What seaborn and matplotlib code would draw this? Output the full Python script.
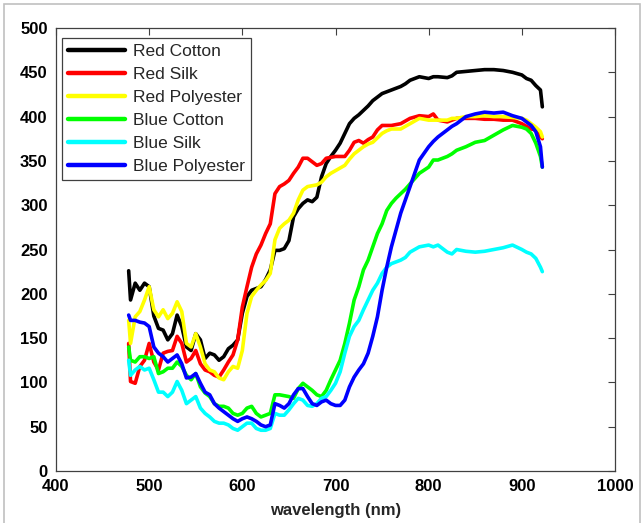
import numpy as np
import pandas as pd
import seaborn as sns
import matplotlib.pyplot as plt
from matplotlib.lines import Line2D

# --- data (wavelength in nm, reflectance counts) ---
names = ['Red Cotton', 'Red Silk', 'Red Polyester', 'Blue Cotton', 'Blue Silk', 'Blue Polyester']
colors = ['#000000', '#ff0000', '#ffff00', '#00ff00', '#00ffff', '#0000ff']

wl_short = [478, 480, 485, 490, 495, 500, 505, 510, 515, 520, 525, 530, 535, 540, 545, 550, 555,
            560, 565, 570, 575, 580, 585, 590, 595, 600, 605, 610, 615, 620, 625, 630, 635, 640,
            645, 650, 655, 660, 665, 670, 675, 680, 685, 690, 695, 700, 705, 710, 715, 720, 725,
            730, 735, 740, 745, 750, 755, 760, 765, 770, 775, 780, 790, 800, 805, 810, 820, 825,
            830, 840, 850, 860, 870, 880, 890, 900, 905, 910, 915, 920, 922]

red_cotton = [226, 193, 212, 204, 212, 208, 175, 161, 159, 148, 155, 176, 163, 140, 136, 155, 148,
              127, 133, 131, 125, 129, 138, 142, 148, 178, 197, 204, 206, 208, 216, 227, 249, 249,
              251, 260, 287, 296, 302, 306, 304, 309, 332, 347, 355, 362, 370, 381, 392, 398, 402,
              407, 412, 418, 422, 426, 428, 430, 432, 434, 437, 441, 445, 443, 445, 445, 444, 446,
              450, 451, 452, 453, 453, 452, 450, 447, 443, 441, 435, 430, 411]

red_silk = [144, 101, 99, 118, 125, 144, 123, 114, 133, 135, 136, 152, 144, 123, 127, 136, 121,
            114, 112, 108, 106, 114, 123, 131, 148, 185, 208, 230, 245, 255, 268, 279, 313, 321,
            324, 328, 336, 343, 353, 353, 349, 345, 347, 353, 354, 355, 355, 355, 362, 371, 373,
            370, 374, 377, 385, 390, 390, 390, 391, 392, 395, 398, 401, 400, 403, 396, 394, 396,
            398, 398, 398, 397, 397, 396, 396, 392, 389, 386, 385, 377, 375]

red_poly = [170, 144, 174, 180, 193, 208, 182, 174, 182, 172, 178, 191, 180, 144, 140, 155, 140,
            121, 114, 112, 105, 103, 112, 118, 116, 136, 178, 197, 204, 210, 215, 223, 261, 274,
            279, 283, 291, 306, 317, 321, 322, 323, 326, 332, 336, 339, 342, 345, 352, 358, 362,
            366, 369, 371, 376, 381, 384, 386, 386, 386, 389, 392, 398, 396, 396, 396, 396, 398,
            398, 400, 400, 401, 400, 400, 399, 398, 396, 392, 388, 383, 377]

blue_cotton = [140, 125, 123, 129, 129, 127, 129, 110, 112, 116, 116, 123, 118, 108, 103, 110, 95,
               88, 84, 76, 73, 73, 71, 65, 63, 65, 71, 73, 65, 61, 63, 65, 86, 86,
               85, 84, 82, 93, 99, 95, 91, 86, 84, 91, 103, 114, 125, 144, 167, 193, 208,
               227, 238, 253, 268, 279, 294, 302, 308, 313, 318, 324, 336, 343, 351, 351, 355, 358,
               362, 366, 371, 373, 379, 385, 390, 388, 386, 381, 370, 355, 343]

blue_silk = [125, 108, 114, 118, 114, 116, 103, 89, 89, 84, 89, 101, 91, 76, 80, 84, 71,
             65, 61, 56, 54, 54, 52, 48, 46, 50, 54, 54, 48, 46, 46, 48, 65, 63,
             63, 69, 76, 82, 80, 74, 73, 76, 82, 84, 91, 99, 112, 133, 152, 163, 170,
             182, 193, 204, 212, 223, 230, 234, 236, 238, 241, 247, 253, 255, 253, 255, 247, 245,
             250, 248, 247, 248, 250, 252, 255, 250, 247, 245, 240, 230, 225]

blue_poly = [176, 170, 170, 168, 167, 163, 140, 133, 129, 123, 127, 131, 121, 105, 106, 110, 99,
             89, 86, 76, 71, 67, 63, 59, 56, 59, 61, 59, 56, 52, 50, 52, 76, 74,
             71, 76, 86, 93, 93, 84, 76, 74, 78, 80, 76, 74, 74, 80, 95, 106, 114,
             121, 133, 152, 174, 204, 230, 253, 272, 291, 306, 321, 351, 366, 372, 377, 385, 389,
             392, 400, 403, 405, 404, 405, 401, 398, 394, 390, 383, 366, 343]

series = [red_cotton, red_silk, red_poly, blue_cotton, blue_silk, blue_poly]

df = pd.concat([pd.DataFrame({'wavelength': wl_short, 'value': v, 'name': n})
                for n, v in zip(names, series)], ignore_index=True)

# --- plot ---
sns.set_style('white')
plt.rcParams['font.family'] = ['Liberation Sans', 'DejaVu Sans']

fig = plt.figure(figsize=(6.44, 5.23), dpi=100)
ax = fig.add_axes([56/644, 1 - 471/523, (615-56)/644, (471-28)/523])

sns.lineplot(data=df, x='wavelength', y='value', hue='name', palette=dict(zip(names, colors)),
             hue_order=names, estimator=None, sort=False, linewidth=2.6, legend=False, ax=ax)

ax.set_xlim(400, 1000)
ax.set_ylim(0, 500)
ax.set_xticks(range(400, 1001, 100))
ax.set_yticks(range(0, 501, 50))
ax.tick_params(direction='in', length=5, width=0.8, top=True, right=True,
               labelsize=12, color='#404040', labelcolor='black', pad=6)
for lab in ax.get_xticklabels() + ax.get_yticklabels():
    lab.set_fontweight('bold')
ax.set_xlabel('wavelength (nm)', fontsize=12, fontweight='bold', labelpad=6)
ax.set_ylabel('')
for s in ax.spines.values():
    s.set_color('#404040')
    s.set_linewidth(0.9)

handles = [Line2D([], [], color=c, lw=3.2) for c in colors]
leg = ax.legend(handles, names, loc='upper left', bbox_to_anchor=(6/559, 1 - 10/443),
                borderaxespad=0, fontsize=12.5, handlelength=3.3, handletextpad=0.45,
                labelspacing=0.45, fancybox=False, framealpha=1, borderpad=0.35)
leg.get_frame().set_edgecolor('#404040')
leg.get_frame().set_linewidth(0.9)

# light grey frame around the figure
fig.add_artist(plt.Rectangle((4/644, -0.05), 636/644, 1.05 - 4/523, transform=fig.transFigure,
                             fill=False, edgecolor='#c0c0c0', linewidth=1.2))

fig.savefig('out.png', dpi=100)
